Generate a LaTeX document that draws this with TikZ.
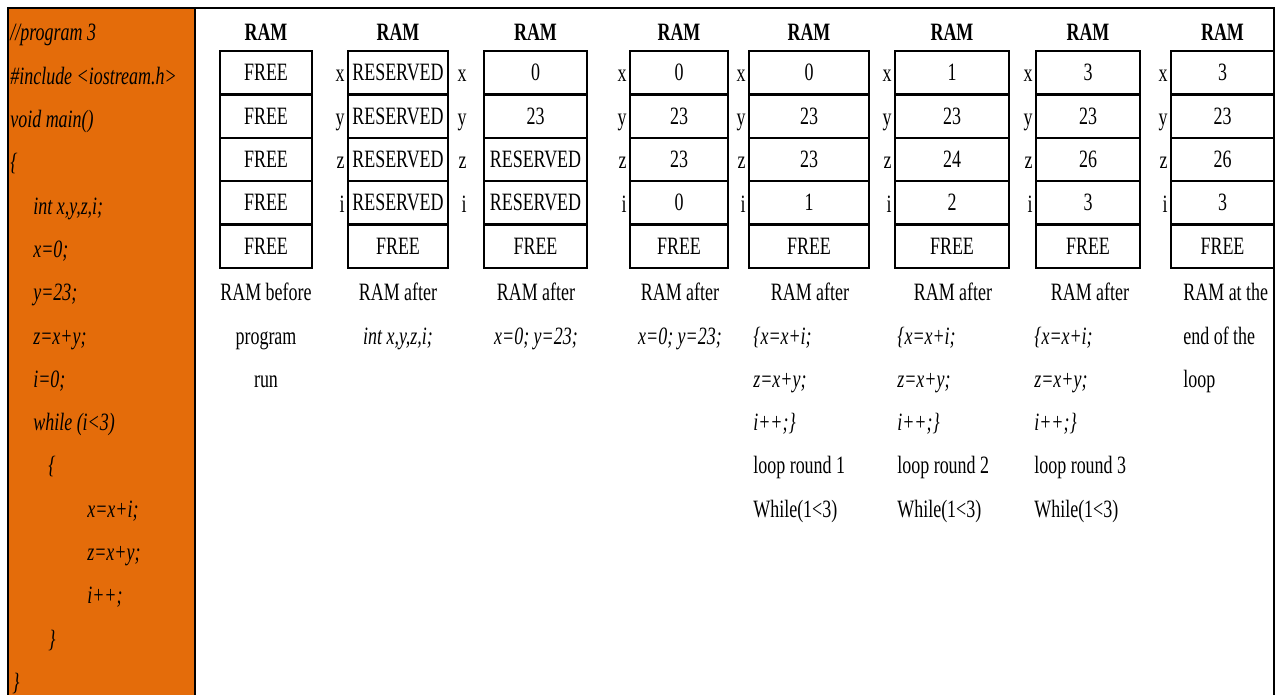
\documentclass[tikz,border=0pt]{standalone}
\usepackage{fontspec}
\setmainfont{Liberation Serif}[FakeStretch=0.72]
\definecolor{codeorange}{RGB}{228,108,10}
\tikzset{
  txt/.style={inner sep=0pt, font=\fontsize{14.2pt}{17pt}\selectfont},
  code/.style={txt, anchor=base west, font=\fontsize{14.2pt}{17pt}\selectfont\itshape},
  head/.style={txt, anchor=base, font=\fontsize{14.2pt}{17pt}\selectfont\bfseries},
  cell/.style={txt, draw, line width=1.3pt, minimum height=0.868cm, text height=0.9em, text depth=0pt},
  varname/.style={txt, anchor=base east},
  capt/.style={txt, anchor=base},
  frame/.style={line width=1.5pt},
}
\begin{document}
\begin{tikzpicture}[x=0.02cm, y=-0.02cm]
  \useasboundingbox (0,0) rectangle (1276,695);
  % program panel and frame
  \fill[codeorange] (8,8) rectangle (195,695);
  \draw[frame] (8,695) -- (8,8) -- (1274,8) -- (1274,695);
  \draw[frame] (195,8) -- (195,695);
  % program text
  \foreach \x/\t [count=\k] in {10/{//program 3}, 10/{\#include <iostream.h>}, 10/{void main()}, 10/{\{},
      33/{int x,y,z,i;}, 33/{x=0;}, 33/{y=23;}, 33/{z=x+y;}, 33/{i=0;}, 33/{while (i<3)},
      48/{\{}, 87/{x=x+i;}, 87/{z=x+y;}, 87/{i++;}, 48/{\}}, 12/{\}}}
    \node[code] (code\k) at (\x,{41+43.3*(\k-1)}) {\t};
  % RAM tables
  \foreach \n/\l/\r/\vals in {1/220/312/{FREE,FREE,FREE,FREE,FREE},
      2/348/448/{RESERVED,RESERVED,RESERVED,RESERVED,FREE},
      3/484/587/{0,23,RESERVED,RESERVED,FREE},
      4/630/728/{0,23,23,0,FREE},
      5/749/869/{0,23,23,1,FREE},
      6/895/1009/{1,23,24,2,FREE},
      7/1036/1140/{3,23,26,3,FREE},
      8/1171/1274/{3,23,26,3,FREE}}{
    \node[head] (head\n) at ({(\l+\r)/2},41) {RAM};
    \foreach \v [count=\k] in \vals
      \node[cell, minimum width={(\r-\l)*0.02cm}] (t\n-\k) at ({(\l+\r)/2},{72.7+43.4*(\k-1)}) {\v};
  }
  % variable names
  \foreach \n/\x in {2/345, 3/467, 4/627, 5/746, 6/892, 7/1033, 8/1168}
    \foreach \s [count=\k] in {x,y,z,i}
      \node[varname] (var\n-\k) at (\x,{82+43.4*(\k-1)}) {\s};
  % captions
  \node[capt] (cap1-a) at (266,300.8) {RAM before};
  \node[capt] (cap1-b) at (266,344.1) {program};
  \node[capt] (cap1-c) at (266,387.4) {run};
  \node[capt] (cap2-a) at (398,300.8) {RAM after};
  \node[capt] (cap2-b) at (398,344.1) {\textit{int x,y,z,i;}};
  \node[capt] (cap3-a) at (536,300.8) {RAM after};
  \node[capt] (cap3-b) at (536,344.1) {\textit{x=0; y=23;}};
  \node[capt] (cap4-a) at (680,300.8) {RAM after};
  \node[capt] (cap4-b) at (680,344.1) {\textit{x=0; y=23;}};
  \foreach \n/\c/\x/\r in {5/810/753/1, 6/953/897/2, 7/1090/1034/3}{
    \node[capt] (cap\n-a) at (\c,300.8) {RAM after};
    \node[capt, anchor=base west] (cap\n-b) at (\x,344.1) {\textit{\{x=x+i;}};
    \node[capt, anchor=base west] (cap\n-c) at (\x,387.4) {\textit{z=x+y;}};
    \node[capt, anchor=base west] (cap\n-d) at (\x,430.7) {\textit{i++;\}}};
    \node[capt, anchor=base west] (cap\n-e) at (\x,474) {loop round \r};
    \node[capt, anchor=base west] (cap\n-f) at (\x,517.3) {While(1<3)};
  }
  \node[capt, anchor=base west] (cap8-a) at (1183,300.8) {RAM at the};
  \node[capt, anchor=base west] (cap8-b) at (1183,344.1) {end of the};
  \node[capt, anchor=base west] (cap8-c) at (1183,387.4) {loop};
\end{tikzpicture}
\end{document}
